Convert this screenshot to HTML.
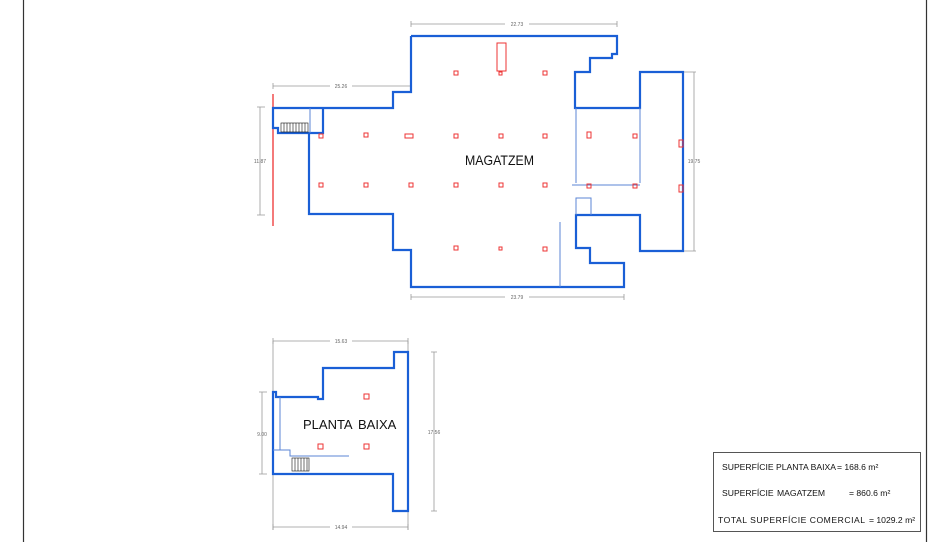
<!DOCTYPE html>
<html><head><style>body{margin:0;background:#fff}svg{display:block}text{font-family:"Liberation Sans",sans-serif}</style></head>
<body>
<svg width="948" height="542" viewBox="0 0 948 542" xmlns="http://www.w3.org/2000/svg">
<line x1="23.5" y1="0" x2="23.5" y2="542" stroke="#333" stroke-width="1.2"/>
<line x1="926.5" y1="0" x2="926.5" y2="542" stroke="#333" stroke-width="1.2"/>
<g stroke="#999" stroke-width="0.8" fill="none">
<path d="M411 24H617M411 21v6M617 21v6"/>
<path d="M273 86H411M273 83v6"/>
<path d="M411 297H624M411 294v6M624 294v6"/>
<path d="M260 107V215M257 107h8M257 215h8"/>
<path d="M694 72V251M684 72h12M684 251h12"/>
<path d="M273 341H408M273 338v6M408 338v6"/>
<path d="M273 527H408M273 524v6M408 524v6"/>
<path d="M262 392V474M259 392h8M259 474h8"/>
<path d="M434 352V511M431 352h6M431 511h6"/>
<path d="M273 341V530M408 341V530"/>
</g>
<g font-size="5" fill="#666" text-anchor="middle">
<rect x="505" y="21" width="24" height="6" fill="#fff"/><text x="517" y="26">22.73</text>
<rect x="330" y="83" width="22" height="6" fill="#fff"/><text x="341" y="88">25.26</text>
<rect x="505" y="294" width="24" height="6" fill="#fff"/><text x="517" y="299">23.79</text>
<text x="260" y="163">11.87</text>
<text x="694" y="163">19.75</text>
<rect x="330" y="338" width="22" height="6" fill="#fff"/><text x="341" y="343">15.63</text>
<rect x="330" y="524" width="22" height="6" fill="#fff"/><text x="341" y="529">14.94</text>
<text x="262" y="436">9.00</text>
<text x="434" y="434">17.56</text>
</g>
<line x1="273" y1="94" x2="273" y2="226" stroke="#e33" stroke-width="1.3"/>
<path d="M411 36H617V54H612V58H590V72H575V108H640V72H683V251H640V215H576V248H590V263H624V287H411V250H393V214H309V133H323V108H273V128H278V133H309M323 108H393V92H411V36" fill="none" stroke="#1a5fd6" stroke-width="2.2" stroke-linejoin="miter"/>
<g stroke="#5b86d6" stroke-width="1" fill="none">
<path d="M576 108V183M640 108V183M572 185H640M576 215V198H591V215M560 222V287M310 108V133"/>
</g>
<g stroke="#111" stroke-width="0.6" fill="none">
<rect x="281" y="123" width="27" height="9"/>
<path d="M284 123v9M287 123v9M290 123v9M293 123v9M296 123v9M299 123v9M302 123v9M305 123v9"/>
</g>
<g fill="none" stroke="#e33" stroke-width="1">
<rect x="497" y="43" width="9" height="28"/>
<rect x="454" y="71" width="4" height="4"/><rect x="499" y="72" width="3" height="3"/><rect x="543" y="71" width="4" height="4"/>
<rect x="319" y="134" width="4" height="4"/><rect x="364" y="133" width="4" height="4"/><rect x="405" y="134" width="8" height="4"/><rect x="454" y="134" width="4" height="4"/><rect x="499" y="134" width="4" height="4"/><rect x="543" y="134" width="4" height="4"/><rect x="587" y="132" width="4" height="6"/><rect x="633" y="134" width="4" height="4"/><rect x="679" y="140" width="4" height="7"/>
<rect x="319" y="183" width="4" height="4"/><rect x="364" y="183" width="4" height="4"/><rect x="409" y="183" width="4" height="4"/><rect x="454" y="183" width="4" height="4"/><rect x="499" y="183" width="4" height="4"/><rect x="543" y="183" width="4" height="4"/><rect x="587" y="184" width="4" height="4"/><rect x="633" y="184" width="4" height="4"/><rect x="679" y="185" width="4" height="7"/>
<rect x="454" y="246" width="4" height="4"/><rect x="499" y="247" width="3" height="3"/><rect x="543" y="247" width="4" height="4"/>
<rect x="364" y="394" width="5" height="5"/><rect x="318" y="444" width="5" height="5"/><rect x="364" y="444" width="5" height="5"/>
</g>
<text x="465" y="165" font-size="14" textLength="69" lengthAdjust="spacingAndGlyphs" fill="#111">MAGATZEM</text>
<path d="M273 392H276V397H318V399H323V368H394V352H408V511H393V474H273Z" fill="none" stroke="#1a5fd6" stroke-width="2.2"/>
<g stroke="#5b86d6" stroke-width="1" fill="none"><path d="M280 397V450H290V456H349M273 450H280"/></g>
<g stroke="#111" stroke-width="0.6" fill="none">
<rect x="292" y="458" width="17" height="13"/>
<path d="M295 458v13M298 458v13M301 458v13M304 458v13M307 458v13"/>
</g>
<text x="303" y="429" font-size="13" fill="#111">PLANTA</text>
<text x="358" y="429" font-size="13" fill="#111">BAIXA</text>
<rect x="713.5" y="452.5" width="207" height="79" fill="none" stroke="#555" stroke-width="1"/>
<g font-size="8.6" fill="#111">
<text x="722" y="470">SUPERFÍCIE PLANTA BAIXA</text><text x="837" y="470">=  168.6 m²</text>
<text x="722" y="496">SUPERFÍCIE</text><text x="777" y="496">MAGATZEM</text><text x="849" y="496">=  860.6 m²</text>
<text x="718" y="523" textLength="147" lengthAdjust="spacing">TOTAL SUPERFÍCIE COMERCIAL</text><text x="869" y="523">=  1029.2 m²</text>
</g>
</svg>
</body></html>
